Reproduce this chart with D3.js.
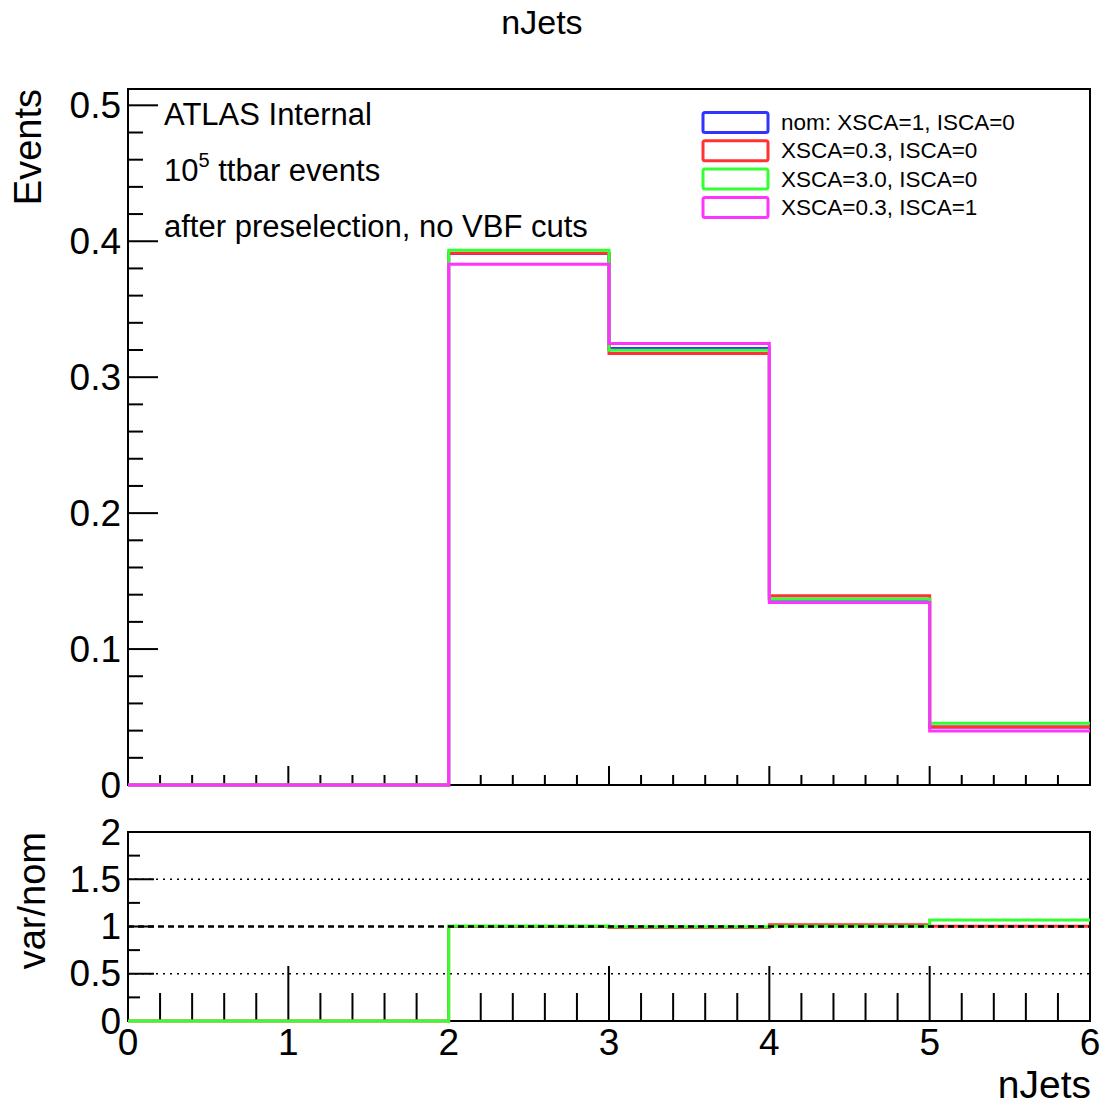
<!DOCTYPE html>
<html>
<head>
<meta charset="utf-8">
<script src="https://cdn.jsdelivr.net/npm/d3@7"></script>
<style>
  html, body { margin: 0; padding: 0; background: #fff; }
  text { font-family: "Liberation Sans", Arial, Helvetica, sans-serif; fill: #000; }
</style>
</head>
<body>
<div id="chart"></div>
<script>
// bin edges of nJets
const binEdges = [0, 1, 2, 3, 4, 5, 6];
const xTickValues = [0, 1, 2, 3, 4, 5, 6];
const yTickValues = [0, 0.1, 0.2, 0.3, 0.4, 0.5];
const ratioTickValues = [0, 0.5, 1, 1.5, 2];

// normalised contents per bin
const nomValues    = [0, 0, 0.3910, 0.3211, 0.1366, 0.0426];
const xsca03Values = [0, 0, 0.3912, 0.3174, 0.1392, 0.0427];
const xsca30Values = [0, 0, 0.3934, 0.3199, 0.1368, 0.0455];
const isca1Values  = [0, 0, 0.3830, 0.3248, 0.1343, 0.0398];

const seriesNames = ["nom: XSCA=1, ISCA=0", "XSCA=0.3, ISCA=0", "XSCA=3.0, ISCA=0", "XSCA=0.3, ISCA=1"];
const seriesColors = ["#3333ff", "#ff3333", "#33ff33", "#ff33ff"];
const seriesValues = [nomValues, xsca03Values, xsca30Values, isca1Values];
// only these are drawn in the ratio pad
const ratioSeries = [1, 2];

const textLines = ["ATLAS Internal", "ttbar events", "after preselection, no VBF cuts"];

const W = 1103, H = 1107;
const frame = { left: 128, right: 1090, top: 89, bottom: 785 };
const rframe = { top: 832, bottom: 1021 };

const svg = d3.select("#chart").append("svg")
  .attr("width", W).attr("height", H);

const x = d3.scaleLinear().domain([0, 6]).range([frame.left, frame.right]);
const y = d3.scaleLinear().domain([0, 0.512]).range([frame.bottom, frame.top]);
const yr = d3.scaleLinear().domain([0, 2]).range([rframe.bottom, rframe.top]);

// title
svg.append("text").attr("x", 542).attr("y", 34)
  .attr("text-anchor", "middle").style("font-size", "34px").text("nJets");

// ---------- main pad ----------
const main = svg.append("g");

// frame
main.append("rect")
  .attr("x", frame.left).attr("y", frame.top)
  .attr("width", frame.right - frame.left).attr("height", frame.bottom - frame.top)
  .attr("fill", "none").attr("stroke", "#000").attr("stroke-width", 2);

// x ticks (bottom only, no labels in the main pad)
const xMinor = d3.range(0, 6.0001, 0.2).map(v => +v.toFixed(1));
main.selectAll(".xt").data(xMinor).join("line")
  .attr("x1", d => x(d)).attr("x2", d => x(d))
  .attr("y1", frame.bottom)
  .attr("y2", d => frame.bottom - (Math.abs(d - Math.round(d)) < 1e-6 ? 19 : 10))
  .attr("stroke", "#000").attr("stroke-width", 2);

// y ticks
const yMinor = d3.range(0, 0.5001, 0.02).map(v => +v.toFixed(2));
main.selectAll(".yt").data(yMinor).join("line")
  .attr("x1", frame.left)
  .attr("x2", d => frame.left + (Math.abs(d * 10 - Math.round(d * 10)) < 1e-6 ? 30 : 15))
  .attr("y1", d => y(d)).attr("y2", d => y(d))
  .attr("stroke", "#000").attr("stroke-width", 2);

main.selectAll(".yl").data(yTickValues).join("text")
  .attr("x", 121).attr("y", d => y(d))
  .attr("text-anchor", "end").attr("dominant-baseline", "central")
  .style("font-size", "37px")
  .text(d => d === 0 ? "0" : d3.format(".1f")(d));

// y title
svg.append("text")
  .attr("transform", `translate(41, ${frame.top}) rotate(-90)`)
  .attr("text-anchor", "end").style("font-size", "38px").text("Events");

// histograms
const step = d3.line().curve(d3.curveStepAfter).x(d => x(d[0])).y(d => d[1]);
function histPoints(vals, scale) {
  const pts = vals.map((v, i) => [binEdges[i], scale(v)]);
  pts.push([binEdges[binEdges.length - 1], scale(vals[vals.length - 1])]);
  return pts;
}
seriesValues.forEach((vals, i) => {
  main.append("path")
    .attr("d", step(histPoints(vals, y)))
    .attr("fill", "none").attr("stroke", seriesColors[i]).attr("stroke-width", 3);
});

// labels inside
const lab = main.append("g").style("font-size", "31px");
lab.append("text").attr("x", 164).attr("y", 125).text(textLines[0]);
const t2 = lab.append("text").attr("x", 164).attr("y", 181);
t2.append("tspan").text("10");
t2.append("tspan").attr("dy", -14).style("font-size", "20px").text("5");
t2.append("tspan").attr("dy", 14).text(" " + textLines[1]);
lab.append("text").attr("x", 164).attr("y", 237).text(textLines[2]);

// legend
const leg = main.append("g");
seriesNames.forEach((name, i) => {
  const cy = 122.5 + i * 28.3;
  leg.append("rect")
    .attr("x", 703).attr("y", cy - 10).attr("width", 65).attr("height", 20)
    .attr("rx", 2).attr("fill", "none")
    .attr("stroke", seriesColors[i]).attr("stroke-width", 3);
  leg.append("text")
    .attr("x", 781).attr("y", cy).attr("dominant-baseline", "central")
    .style("font-size", "22.5px").text(name);
});

// ---------- ratio pad ----------
const rp = svg.append("g");

rp.append("rect")
  .attr("x", frame.left).attr("y", rframe.top)
  .attr("width", frame.right - frame.left).attr("height", rframe.bottom - rframe.top)
  .attr("fill", "none").attr("stroke", "#000").attr("stroke-width", 2);

// grid lines
[0.5, 1.5].forEach(v => {
  rp.append("line").attr("x1", frame.left).attr("x2", frame.right)
    .attr("y1", yr(v)).attr("y2", yr(v))
    .attr("stroke", "#000").attr("stroke-width", 1.5).attr("stroke-dasharray", "2,5");
});

// x ticks
rp.selectAll(".rxt").data(xMinor).join("line")
  .attr("x1", d => x(d)).attr("x2", d => x(d))
  .attr("y1", rframe.bottom)
  .attr("y2", d => rframe.bottom - (Math.abs(d - Math.round(d)) < 1e-6 ? 55 : 28))
  .attr("stroke", "#000").attr("stroke-width", 2);

// y ticks
const rMinor = d3.range(0, 2.0001, 0.25);
rp.selectAll(".ryt").data(rMinor).join("line")
  .attr("x1", frame.left)
  .attr("x2", d => frame.left + (Math.abs(d * 2 - Math.round(d * 2)) < 1e-6 ? 26 : 12))
  .attr("y1", d => yr(d)).attr("y2", d => yr(d))
  .attr("stroke", "#000").attr("stroke-width", 2);

rp.selectAll(".ryl").data(ratioTickValues).join("text")
  .attr("x", 121).attr("y", d => yr(d))
  .attr("text-anchor", "end").attr("dominant-baseline", "central")
  .style("font-size", "37px").text(d => d);

svg.append("text")
  .attr("transform", `translate(45, ${rframe.top}) rotate(-90)`)
  .attr("text-anchor", "end").style("font-size", "38px").text("var/nom");

// ratio histograms
ratioSeries.forEach(i => {
  const ratio = seriesValues[i].map((v, b) => nomValues[b] > 0 ? v / nomValues[b] : 0);
  rp.append("path")
    .attr("d", step(histPoints(ratio, yr)))
    .attr("fill", "none").attr("stroke", seriesColors[i]).attr("stroke-width", 3);
});

// dashed unity line
rp.append("line").attr("x1", frame.left).attr("x2", frame.right)
  .attr("y1", yr(1)).attr("y2", yr(1))
  .attr("stroke", "#000").attr("stroke-width", 2.5).attr("stroke-dasharray", "6,4");

// x labels
rp.selectAll(".rxl").data(xTickValues).join("text")
  .attr("x", d => x(d)).attr("y", 1042)
  .attr("text-anchor", "middle").attr("dominant-baseline", "central")
  .style("font-size", "37px").text(d => d);

svg.append("text").attr("x", 1091).attr("y", 1098)
  .attr("text-anchor", "end").style("font-size", "39px").text("nJets");
</script>
</body>
</html>
